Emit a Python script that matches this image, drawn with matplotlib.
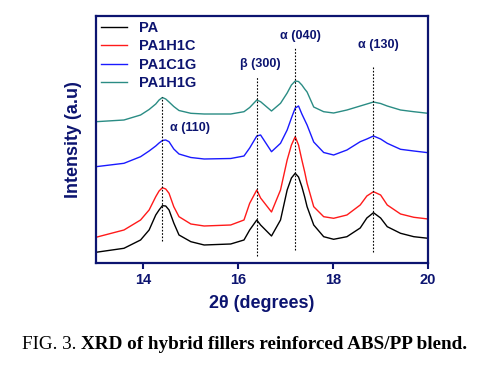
import matplotlib
matplotlib.use('Agg')
import matplotlib.pyplot as plt

############################################################################################
# values (intensity in arbitrary units, stacked as plotted)
two_theta = [13.0, 13.59, 13.94, 14.12, 14.26, 14.33, 14.4, 14.47, 14.54, 14.64, 14.75, 15.0, 15.28, 15.84,
             16.12, 16.24, 16.39, 16.47, 16.7, 16.89, 17.03, 17.12, 17.2, 17.27, 17.34, 17.4, 17.45, 17.59,
             17.8, 18.01, 18.29, 18.57, 18.71, 18.85, 19.0, 19.14, 19.42, 19.7, 20.0]
pa      = [10.7, 14.7, 23, 33, 48, 53, 57.3, 57, 53, 40, 28, 21.3, 18, 19,
           23, 33, 43, 38, 27, 43, 73, 85, 89.7, 86, 76.3, 66, 56.3, 38,
           26.3, 23.7, 26.3, 35, 45, 50.3, 45, 36.3, 29.7, 26.3, 24.7]
pa1h1c  = [25.7, 33, 43, 53, 66.3, 72, 75.3, 74, 69.7, 56.3, 46.3, 39, 37, 38,
           43, 59.7, 73, 65, 51, 73, 103, 118, 126.3, 118, 103, 91, 79.7, 56.3,
           46.3, 44.7, 48, 58, 67, 71.3, 68, 58, 49, 45.7, 44]
pa1c1g  = [96.3, 99.7, 106.3, 112, 117, 120, 122.5, 123, 121.3, 114, 109, 105.5, 104, 104.5,
           107, 115, 127, 128, 111.3, 119.7, 133, 145, 155, 157, 149, 143, 138, 121,
           110.5, 108, 113, 121.3, 124, 127, 124, 119.7, 113.7, 112, 110.3]
pa1h1g  = [141.3, 143, 148, 153.5, 159, 163, 165.5, 164, 161, 156.5, 152.5, 149.7, 149, 149,
           151.3, 155.5, 163, 161.3, 152, 159.7, 170, 178, 182, 181.5, 178, 174, 171, 156,
           151.3, 150, 153, 157, 159, 161, 159.5, 157, 153, 151.3, 149.7]
series_names  = ['PA', 'PA1H1C', 'PA1C1G', 'PA1H1G']
series_colors = ['black', '#ff1a1a', '#1a1aff', '#2a8c84']

# reflection markers: position, dotted line span, label
peak_pos    = [14.4, 16.4, 17.2, 18.85]
peak_lo     = [22, 7, 13, 11]
peak_hi     = [166, 186, 215, 197]
peak_labels = ['α (110)', 'β (300)', 'α (040)', 'α (130)']
label_xy    = [(14.98, 135), (16.46, 199), (17.31, 227), (18.95, 218)]

############################################################################################
navy = '#0c1470'
plt.rcParams['font.family'] = ['Liberation Sans', 'DejaVu Sans']

fig = plt.figure(figsize=(4.96, 3.69), dpi=100)
ax = fig.add_axes([0.1935, 0.2873, 0.6695, 0.6693])

for vals, name, col in zip([pa, pa1h1c, pa1c1g, pa1h1g], series_names, series_colors):
    ax.plot(two_theta, vals, color=col, lw=1.0, label=name)

for xp, lo, hi in zip(peak_pos, peak_lo, peak_hi):
    ax.plot([xp, xp], [lo, hi], color='black', lw=0.8, ls=(0, (1.5, 1.5)))

for txt, (tx, ty) in zip(peak_labels, label_xy):
    ax.text(tx, ty, txt, color=navy, fontsize=9, fontweight='bold', ha='center', va='center')

ax.set_xlim(13, 20)
ax.set_ylim(0, 247)
ax.set_xticks([14, 16, 18, 20])
ax.set_yticks([])
ax.tick_params(axis='x', direction='out', length=4, width=1.5, color=navy, labelcolor=navy, labelsize=10.5, pad=3)
for lab in ax.get_xticklabels(): lab.set_fontweight('bold')
for sp in ax.spines.values():
    sp.set_color(navy)
    sp.set_linewidth(1.6)

ax.set_xlabel('2θ (degrees)', color=navy, fontsize=13, fontweight='bold', labelpad=6)
ax.set_ylabel('Intensity (a.u)', color=navy, fontsize=13, fontweight='bold', labelpad=10)

leg = ax.legend(loc='upper left', frameon=False, fontsize=10.5, handlelength=1.8, handletextpad=0.8,
                borderaxespad=0.25, labelspacing=0.3, borderpad=0.1)
for t in leg.get_texts():
    t.set_color(navy)
    t.set_fontweight('bold')

# caption below the chart
cap_a = fig.text(0.045, 0.055, 'FIG. 3. ', family='Liberation Serif', fontsize=13.8, va='baseline')
fig.canvas.draw()
x_end = fig.transFigure.inverted().transform(cap_a.get_window_extent().p1)[0]
fig.text(x_end, 0.055, 'XRD of hybrid fillers reinforced ABS/PP blend.', family='Liberation Serif',
         fontsize=13.8, fontweight='bold', va='baseline')

plt.savefig('out.png', dpi=100)
